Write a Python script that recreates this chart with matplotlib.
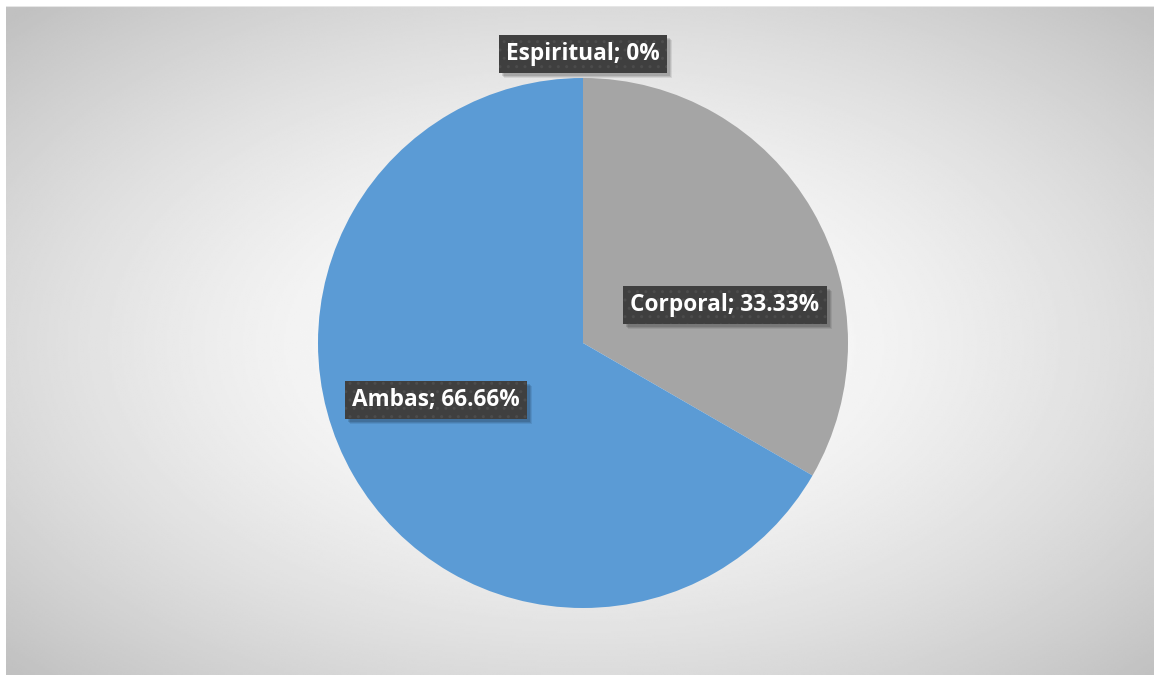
import numpy as np
import matplotlib
matplotlib.use("Agg")
import matplotlib.pyplot as plt
from matplotlib.patches import Rectangle

categories = ["Espiritual", "Corporal", "Ambas"]
values = [0.0, 33.33, 66.66]
labels = ["Espiritual; 0%", "Corporal; 33.33%", "Ambas; 66.66%"]
colors = ["#ED7D31", "#A5A5A5", "#5B9BD5"]

W, H = 1154, 675
fig = plt.figure(figsize=(W / 100, H / 100), dpi=100)
fig.patch.set_facecolor("white")

# radial gradient backdrop
bg = fig.add_axes([6 / W, 0, (W - 6) / W, (H - 6) / H])
bg.set_axis_off()
ny, nx = 340, 580
yy, xx = np.mgrid[0:ny, 0:nx]
cx, cy = (583 - 6) / (W - 6) * nx, (343 - 6) / (H - 6) * ny
d = np.sqrt(((xx - cx) / (nx * 0.5)) ** 2 + ((yy - cy) / (ny * 0.5)) ** 2)
shade = 1.0 - 0.245 * np.clip(d / 1.4, 0, 1) ** 1.6
bg.imshow(shade, cmap="gray", vmin=0, vmax=1, aspect="auto",
          extent=[0, 1, 0, 1], interpolation="bilinear")
bg.set_xlim(0, 1)
bg.set_ylim(0, 1)
bg.axhline(1, color="#e6e6e6", lw=1.5)

# pie
R = 265
ax = fig.add_axes([(583 - R) / W, (H - 343 - R) / H, 2 * R / W, 2 * R / H])
ax.pie(values, colors=colors, startangle=90, counterclock=False,
       radius=1, wedgeprops=dict(linewidth=0))
ax.set_xlim(-1, 1)
ax.set_ylim(-1, 1)
ax.set_aspect("equal")
ax.set_axis_off()

plt.rcParams["hatch.color"] = "#555555"
plt.rcParams["hatch.linewidth"] = 1.0

label_pos = [(583, 54), (725, 305), (436, 400)]
texts = []
for text, (px, py) in zip(labels, label_pos):
    t = fig.text(px / W, 1 - py / H, text, ha="center", va="center",
                 fontsize=16.3, fontweight="bold", family="Open Sans",
                 color="white", zorder=5,
                 bbox=dict(boxstyle="square,pad=0.32", facecolor="#3F3F3F",
                           edgecolor="#4c4c4c", hatch="..", linewidth=0))
    texts.append(t)

# soft drop shadows behind the label boxes
fig.canvas.draw()
for t in texts:
    ext = t.get_bbox_patch().get_window_extent()
    for k, a in [(5, 0.08), (4, 0.10), (3, 0.12)]:
        fig.patches.append(Rectangle(((ext.x0 + k) / W, (ext.y0 - k) / H),
                                     ext.width / W, ext.height / H,
                                     transform=fig.transFigure,
                                     facecolor="black", edgecolor="none",
                                     alpha=a, zorder=4))

fig.savefig("out.png", dpi=100)
